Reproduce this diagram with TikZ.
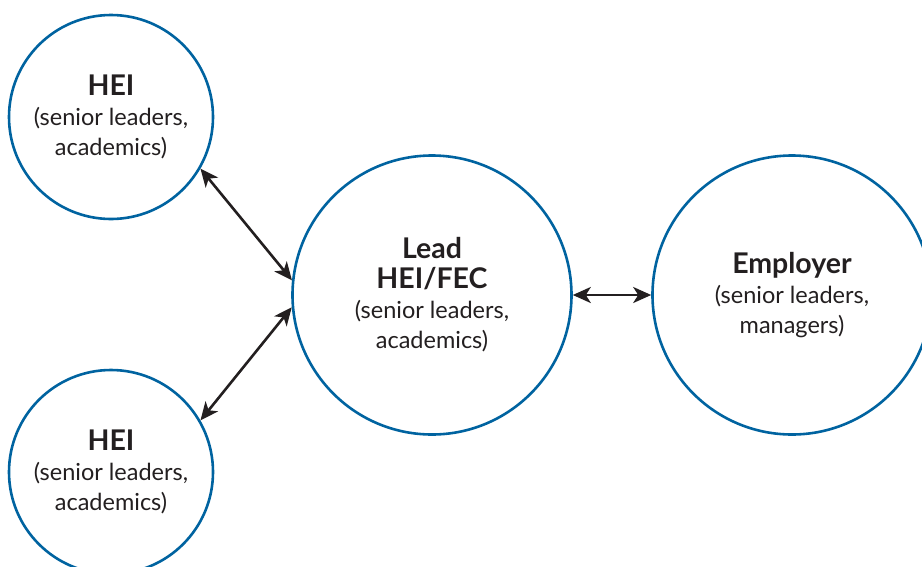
\documentclass[tikz,border=0pt]{standalone}
\usepackage{fontspec}
\setmainfont{Lato}
\usepackage{tikz}
\usetikzlibrary{arrows.meta}
\definecolor{ringblue}{RGB}{0,99,160}
\definecolor{inkgrey}{RGB}{35,31,32}

\begin{document}
\begin{tikzpicture}[x=1pt,y=-1pt,
		party/.style={circle,draw=ringblue,line width=2.6pt,inner sep=0pt,align=center,text=inkgrey,font=\fontsize{23.5}{30}\selectfont},
		link/.style={line width=2.6pt,draw=inkgrey,{Stealth[length=18pt,width=16pt,inset=5pt]}-{Stealth[length=18pt,width=16pt,inset=5pt]}}]
		\useasboundingbox (0,0) rectangle (922,566);
		\node [party,minimum size=204pt] (hei1) at (111,117) {{\bfseries\fontsize{28.5}{32}\selectfont HEI}\\(senior leaders,\\academics)};
		\node [party,minimum size=204pt] (hei2) at (111,472) {{\bfseries\fontsize{28.5}{32}\selectfont HEI}\\(senior leaders,\\academics)};
		\node [party,minimum size=279pt] (lead) at (432,295) {{\bfseries\fontsize{28.5}{32}\selectfont Lead}\\{\bfseries\fontsize{28.5}{32}\selectfont HEI/FEC}\\(senior leaders,\\academics)};
		\node [party,minimum size=279pt] (employer) at (792,295) {{\bfseries\fontsize{28.5}{32}\selectfont Employer}\\(senior leaders,\\managers)};
		\draw [link] (hei1.-30) -- (lead.174);
		\draw [link] (hei2.30) -- (lead.185);
		\draw [link] (lead.east) -- (employer.west);
	\end{tikzpicture}
\end{document}
